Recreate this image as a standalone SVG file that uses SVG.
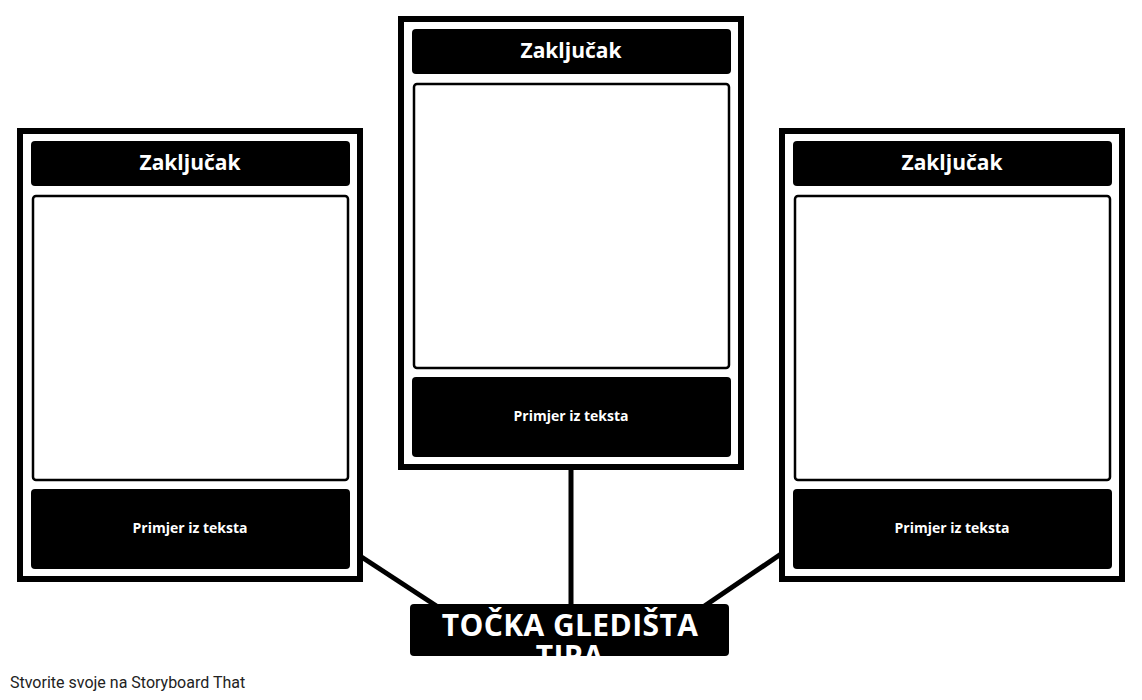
<svg xmlns="http://www.w3.org/2000/svg" width="1142" height="700" viewBox="0 0 1142 700">
<style>
.frame{fill:#fff;stroke:#000;stroke-width:6}
.bar{fill:#000}
.content{fill:#fff;stroke:#000;stroke-width:2.5}
.head{font-family:"Open Sans","Noto Sans",sans-serif;font-weight:bold;font-size:21px;fill:#fff;text-anchor:middle}
.foot{font-family:"Open Sans","Noto Sans",sans-serif;font-weight:bold;font-size:14px;fill:#fff;text-anchor:middle}
.title{font-family:"Open Sans","Noto Sans",sans-serif;font-weight:bold;font-size:30px;letter-spacing:0.4px;fill:#fff;text-anchor:middle}
.conn{stroke:#000;stroke-width:5;fill:none}
.credit{font-family:Roboto,"Liberation Sans",sans-serif;font-size:16px;fill:#222}
</style>
<rect width="1142" height="700" fill="#fff"/>
<g id="connectors">
<line class="conn" x1="571" y1="468" x2="571" y2="606"/>
<line class="conn" x1="360" y1="556" x2="438" y2="607"/>
<line class="conn" x1="781" y1="554" x2="703" y2="607"/>
</g>
<g id="panel-left">
<rect class="frame" x="20" y="131" width="340" height="448"/>
<rect class="bar" x="31" y="141" width="319" height="45" rx="4"/>
<text class="head" x="190" y="170">Zaključak</text>
<rect class="content" x="33" y="196" width="315" height="284" rx="3"/>
<rect class="bar" x="31" y="489" width="319" height="80" rx="4"/>
<text class="foot" x="190" y="533">Primjer iz teksta</text>
</g>
<g id="panel-center">
<rect class="frame" x="401" y="19" width="340" height="448"/>
<rect class="bar" x="412" y="29" width="319" height="45" rx="4"/>
<text class="head" x="571" y="58">Zaključak</text>
<rect class="content" x="414" y="84" width="315" height="284" rx="3"/>
<rect class="bar" x="412" y="377" width="319" height="80" rx="4"/>
<text class="foot" x="571" y="421">Primjer iz teksta</text>
</g>
<g id="panel-right">
<rect class="frame" x="782" y="131" width="340" height="448"/>
<rect class="bar" x="793" y="141" width="319" height="45" rx="4"/>
<text class="head" x="952" y="170">Zaključak</text>
<rect class="content" x="795" y="196" width="315" height="284" rx="3"/>
<rect class="bar" x="793" y="489" width="319" height="80" rx="4"/>
<text class="foot" x="952" y="533">Primjer iz teksta</text>
</g>
<g id="center-node">
<rect class="bar" x="410" y="604" width="319" height="52" rx="4"/>
<text class="title" x="570" y="636">TOČKA GLEDIŠTA</text>
<text class="title" x="570" y="667">TIPA</text>
</g>
<text class="credit" x="10" y="688">Stvorite svoje na Storyboard That</text>
</svg>
